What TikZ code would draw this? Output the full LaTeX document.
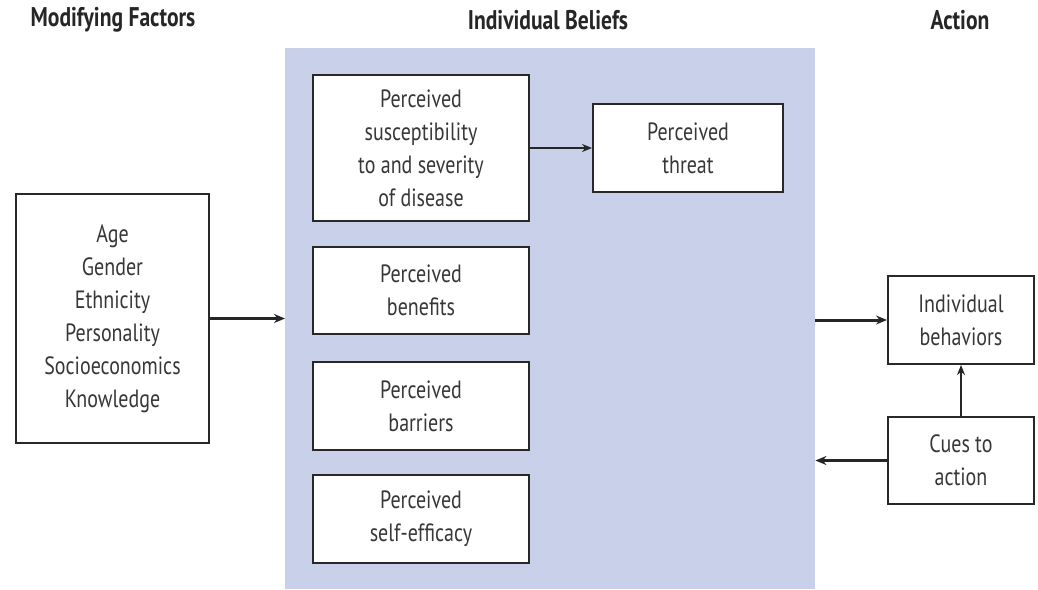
\documentclass[tikz,border=0pt]{standalone}
\usepackage{fontspec}
\setmainfont{PT Sans}[FakeStretch=0.8]
\usetikzlibrary{arrows.meta}
\definecolor{bgblue}{RGB}{200,208,234}
\definecolor{boxline}{RGB}{40,40,40}
\definecolor{txt}{RGB}{55,55,55}
\begin{document}
\begin{tikzpicture}[x=1pt,y=-1pt,
  box/.style={draw=boxline,line width=2pt,fill=white,align=center,inner sep=0pt,text=txt,
    font=\fontsize{25}{33}\selectfont},
  head/.style={font=\fontsize{27}{30}\selectfont\bfseries,text=black!85},
  thick arrow/.style={line width=3pt,draw=black!85,-{Stealth[length=11pt,width=9pt]}},
  thin arrow/.style={line width=1.6pt,draw=black!85,-{Stealth[length=10pt,width=8pt]}}]
\useasboundingbox (0,0) rectangle (1038,589);
\fill[white] (0,0) rectangle (1038,589);
% background
\node[fill=bgblue,inner sep=0pt,minimum width=530pt,minimum height=541pt,anchor=north west] (bg) at (285,48) {};
% headers
\node[head] (h1) at (113,20) {Modifying Factors};
\node[head] (h2) at (548,20) {Individual Beliefs};
\node[head] (h3) at (960,20) {Action};
% boxes
\node[box,minimum width=216pt,minimum height=146pt] (sus) at (421,148) {Perceived\\susceptibility\\to and severity\\of disease};
\node[box,minimum width=190pt,minimum height=88pt] (thr) at (688,148) {Perceived\\threat};
\node[box,minimum width=216pt,minimum height=87pt] (ben) at (421,290.5) {Perceived\\benefits};
\node[box,minimum width=216pt,minimum height=88pt] (bar) at (421,406) {Perceived\\barriers};
\node[box,minimum width=216pt,minimum height=88pt] (eff) at (421,519) {Perceived\\self-efficacy};
\node[box,minimum width=193pt,minimum height=249pt] (mod) at (112.5,318.5) {Age\\Gender\\Ethnicity\\Personality\\Socioeconomics\\Knowledge};
\node[box,minimum width=146pt,minimum height=88pt] (beh) at (961,320) {Individual\\behaviors};
\node[box,minimum width=146pt,minimum height=87pt] (cue) at (961,460.5) {Cues to\\action};
% connectors
\draw[thick arrow] (mod.east) -- (mod.east -| bg.west);
\draw[thin arrow] (sus.east) -- (thr.west);
\draw[thick arrow] (beh.west -| bg.east) -- (beh.west);
\draw[thick arrow] (cue.west) -- (cue.west -| bg.east);
\draw[thin arrow] (cue.north) -- (beh.south);
\end{tikzpicture}
\end{document}
